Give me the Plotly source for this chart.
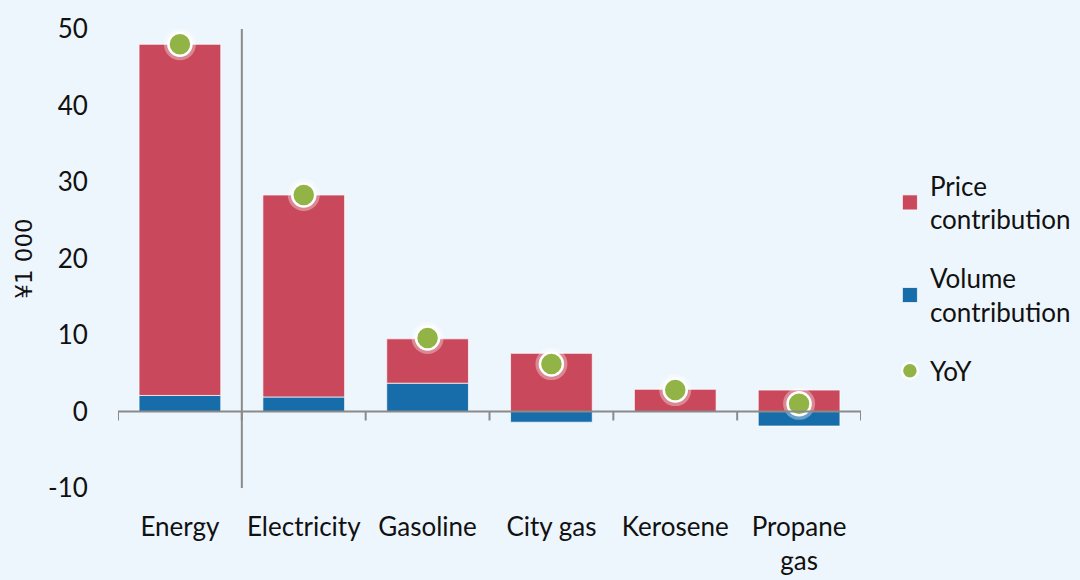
import plotly.graph_objects as go

# Household energy spending change, split into price and volume effects
categories = ["Energy", "Electricity", "Gasoline", "City gas", "Kerosene", "Propane<br>gas"]
price_contribution = [45.9, 26.4, 5.8, 7.6, 2.9, 2.8]
volume_contribution = [2.1, 1.9, 3.7, -1.4, 0.0, -1.9]
yoy_change = [48.0, 28.3, 9.6, 6.2, 2.8, 1.0]
y_ticks = [-10, 0, 10, 20, 30, 40, 50]
y_tick_labels = ["-10", "0", "10", "20", "30", "40", "50"]

BG = "#EEF6FD"
RED = "#C9485B"
BLUE = "#176DAA"
GREEN = "#92B446"
AXIS = "#8A8A8A"
FONT = "Lato"
ZWNJ = "\u200c"  # keeps "ti" from ligating

fig = go.Figure()

fig.add_trace(go.Bar(
    x=categories, y=volume_contribution, name="Volume contribution", showlegend=False,
    marker=dict(color=BLUE, line=dict(color="rgba(255,255,255,0.7)", width=1)),
    width=0.66, legendgroup="vol",
))
fig.add_trace(go.Bar(
    x=categories, y=price_contribution, name="Price contribution", showlegend=False,
    marker=dict(color=RED, line=dict(color="rgba(255,255,255,0.7)", width=1)),
    width=0.66, legendgroup="price",
))
# soft halo behind the YoY dots
fig.add_trace(go.Scatter(
    x=categories, y=yoy_change, mode="markers", showlegend=False, hoverinfo="skip",
    marker=dict(size=32, color="rgba(255,255,255,0.35)", line=dict(width=0)),
))
fig.add_trace(go.Scatter(
    x=categories, y=yoy_change, mode="markers", name="YoY",
    marker=dict(size=23, color=GREEN, line=dict(color="white", width=2.5)),
    legendrank=3, legendgroup="yoy",
))

# legend entries for the bar series with larger square swatches
for label, colour, rank, group in [
    (f"Price<br>contribu{ZWNJ}tion", RED, 1, "price"),
    (f"Volume<br>contribu{ZWNJ}tion", BLUE, 2, "vol"),
]:
    fig.add_trace(go.Scatter(
        x=[None], y=[None], mode="markers", name=label, legendrank=rank, legendgroup=group,
        marker=dict(symbol="square", size=15, color=colour,
                    line=dict(color="rgba(255,255,255,0.7)", width=1)),
    ))

n = len(categories)
shapes = [
    # horizontal axis line at zero
    dict(type="line", xref="x", yref="y", x0=-0.5, x1=n - 0.5, y0=0, y1=0,
         line=dict(color=AXIS, width=2)),
    # vertical axis crossing between the first and second categories
    dict(type="line", xref="x", yref="y", x0=0.5, x1=0.5, y0=-10, y1=50,
         line=dict(color=AXIS, width=2)),
]
# tick marks on the category boundaries, hanging below the zero line
for i in range(n + 1):
    shapes.append(dict(type="line", xref="x", yref="y", ysizemode="pixel", yanchor=0,
                       x0=i - 0.5, x1=i - 0.5, y0=0, y1=-9,
                       line=dict(color=AXIS, width=2)))

fig.update_layout(
    width=1080, height=580,
    margin=dict(l=118, r=219, t=29, b=92, autoexpand=False),
    paper_bgcolor=BG, plot_bgcolor=BG,
    font=dict(family=FONT, size=26, color="#111111"),
    barmode="relative", bargap=0.34,
    shapes=shapes,
    legend=dict(xref="container", x=0.824, y=0.71, xanchor="left", yanchor="top",
                bgcolor="rgba(0,0,0,0)", font=dict(size=26), itemwidth=30,
                traceorder="grouped", tracegroupgap=22),
    xaxis=dict(range=[-0.5, n - 0.5], showline=False, showgrid=False, zeroline=False,
               ticks="outside", ticklen=16, tickcolor="rgba(0,0,0,0)", automargin=False),
    yaxis=dict(range=[-10, 50], tickvals=y_ticks, ticktext=y_tick_labels,
               showline=False, showgrid=False, zeroline=False,
               ticks="outside", ticklen=24, tickcolor="rgba(0,0,0,0)", automargin=False,
               title=dict(text="¥1 000", standoff=8,
                          font=dict(family="DejaVu Sans", size=23))),
)

fig.write_html("out.html")
